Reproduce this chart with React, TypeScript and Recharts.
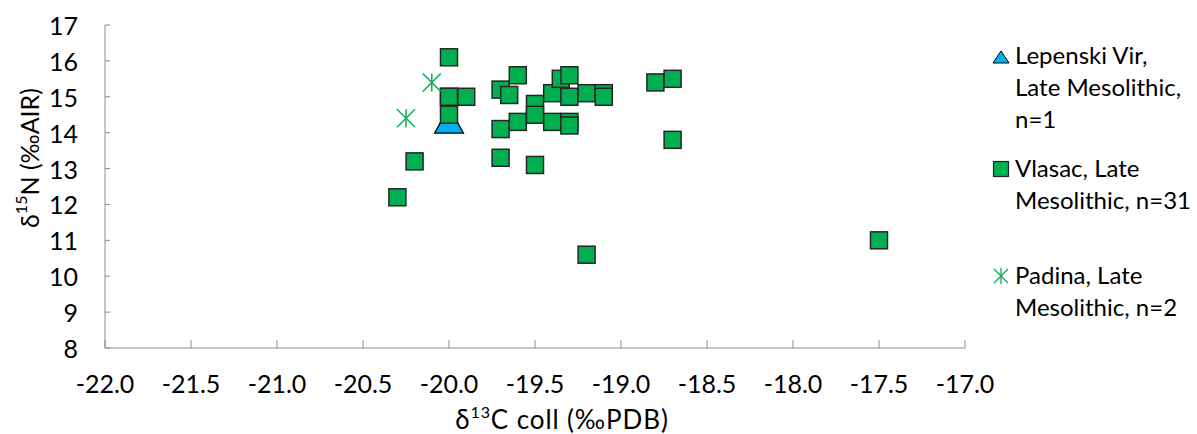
import React from 'react';
import { Label, Legend, Scatter, ScatterChart, XAxis, YAxis } from 'recharts';

// δ13C / δ15N per site
const lepenskiC = [-20.0];
const lepenskiN = [14.35];

const vlasacC = [
  -20.0, -20.0, -19.9, -20.0, -20.2, -20.3, -19.6, -19.7, -19.65, -19.5, -19.4,
  -19.35, -19.3, -19.3, -19.2, -19.1, -19.1, -19.7, -19.6, -19.5, -19.4, -19.3,
  -19.3, -19.7, -19.5, -18.8, -18.7, -18.7, -19.2, -17.5, -20.0,
];
const vlasacN = [
  16.1, 15.0, 15.0, 14.5, 13.2, 12.2, 15.6, 15.2, 15.05, 14.8, 15.1, 15.5, 15.6,
  15.0, 15.1, 15.1, 15.0, 14.1, 14.3, 14.5, 14.3, 14.3, 14.2, 13.3, 13.1, 15.4,
  15.5, 13.8, 10.6, 11.0, 15.0,
];

const padinaC = [-20.1, -20.25];
const padinaN = [15.4, 14.4];

const xTicks = [-22, -21.5, -21, -20.5, -20, -19.5, -19, -18.5, -18, -17.5, -17];
const yTicks = [8, 9, 10, 11, 12, 13, 14, 15, 16, 17];

const FONT = 'Lato, "Noto Sans", sans-serif';
const AXIS = '#8c8c8c';
const GREEN = '#00B050';
const BLUE = '#00B0F0';
const TICK_FS = 25;

const zip = (xs: number[], ys: number[]) => xs.map((c, i) => ({ c, n: ys[i] }));

const SquareMark = (p: any) => (
  <rect x={p.cx - 8.5} y={p.cy - 8.5} width={17} height={17} fill={GREEN} stroke="#262626" strokeWidth={1.5} />
);

const TriangleMark = (p: any) => (
  <polygon
    points={`${p.cx},${p.cy - 13} ${p.cx + 14.5},${p.cy + 13} ${p.cx - 14.5},${p.cy + 13}`}
    fill={BLUE}
    stroke="#000"
    strokeWidth={1.2}
  />
);

const StarMark = (p: any) => {
  const r = 9;
  const { cx, cy } = p;
  return (
    <g stroke={GREEN} strokeWidth={1.5}>
      <line x1={cx - r} y1={cy - r} x2={cx + r} y2={cy + r} />
      <line x1={cx - r} y1={cy + r} x2={cx + r} y2={cy - r} />
      <line x1={cx} y1={cy - r} x2={cx} y2={cy + r} />
    </g>
  );
};

const XTick = ({ x, y, payload }: any) => (
  <g>
    <line x1={x} x2={x} y1={y} y2={y - 8} stroke={AXIS} />
    <text x={x} y={y + 35} textAnchor="middle" dominantBaseline="central" fontSize={TICK_FS} fontFamily={FONT} fill="#000">
      {payload.value.toFixed(1)}
    </text>
  </g>
);

const YTick = ({ x, y, payload }: any) => (
  <g>
    <line x1={x} x2={x + 5} y1={y} y2={y} stroke={AXIS} />
    <text x={x - 27} y={y} textAnchor="end" dominantBaseline="central" fontSize={TICK_FS} fontFamily={FONT} fill="#000">
      {payload.value}
    </text>
  </g>
);

const XTitle = () => (
  <text
    x={562}
    y={419}
    textAnchor="middle"
    dominantBaseline="central"
    fontSize={26}
    letterSpacing={0.9}
    fontFamily={FONT}
    fill="#000"
  >
    δ<tspan dy={-8} fontSize={16}>13</tspan>
    <tspan dy={8}>C coll (‰PDB)</tspan>
  </text>
);

const YTitle = () => (
  <text
    x={29}
    y={158}
    transform="rotate(-90, 29, 158)"
    textAnchor="middle"
    dominantBaseline="central"
    fontSize={25}
    fontFamily={FONT}
    fill="#000"
  >
    δ<tspan dy={-9} fontSize={16}>15</tspan>
    <tspan dy={9}>N (‰AIR)</tspan>
  </text>
);

const legendEntries = [
  { mark: 'tri', y: 57, lines: ['Lepenski Vir,', 'Late Mesolithic,', 'n=1'], base: 64 },
  { mark: 'sq', y: 169, lines: ['Vlasac, Late', 'Mesolithic, n=31'], base: 177 },
  { mark: 'star', y: 276, lines: ['Padina, Late', 'Mesolithic, n=2'], base: 284 },
];

const LegendBox = () => (
  <svg width={237} height={330} style={{ display: 'block' }}>
    {legendEntries.map((e) => {
      const cx = 41;
      return (
        <g key={e.lines[0]}>
          {e.mark === 'tri' && (
            <polygon points={`${cx},${e.y - 6} ${cx + 8},${e.y + 6} ${cx - 8},${e.y + 6}`} fill={BLUE} stroke="#000" strokeWidth={1} />
          )}
          {e.mark === 'sq' && (
            <rect x={cx - 7.5} y={e.y - 7.5} width={15} height={15} fill={GREEN} stroke="#262626" strokeWidth={1.2} />
          )}
          {e.mark === 'star' && (
            <g stroke={GREEN} strokeWidth={1.3}>
              <line x1={cx - 7} y1={e.y - 7} x2={cx + 7} y2={e.y + 7} />
              <line x1={cx - 7} y1={e.y + 7} x2={cx + 7} y2={e.y - 7} />
              <line x1={cx} y1={e.y - 8} x2={cx} y2={e.y + 8} />
            </g>
          )}
          {e.lines.map((t, i) => (
            <text key={t} x={55} y={e.base + i * 32} fontSize={24} fontFamily={FONT} fill="#000">
              {t}
            </text>
          ))}
        </g>
      );
    })}
  </svg>
);

export default function App() {
  return (
    <div style={{ position: 'absolute', left: 0, top: 0, width: 1197, height: 434, background: '#fff' }}>
      <ScatterChart width={1197} height={434} margin={{ top: 25, right: 232, bottom: 0, left: 0 }}>
        <XAxis
          type="number"
          dataKey="c"
          domain={[-22, -17]}
          ticks={xTicks}
          interval={0}
          height={86}
          tickSize={0}
          tickMargin={0}
          tickLine={false}
          axisLine={{ stroke: AXIS }}
          tick={<XTick />}
        >
          <Label content={<XTitle />} />
        </XAxis>
        <YAxis
          type="number"
          dataKey="n"
          domain={[8, 17]}
          ticks={yTicks}
          interval={0}
          width={105}
          tickSize={0}
          tickMargin={0}
          tickLine={false}
          axisLine={{ stroke: AXIS }}
          tick={<YTick />}
        >
          <Label content={<YTitle />} />
        </YAxis>
        <Legend
          layout="horizontal"
          verticalAlign="middle"
          align="center"
          content={<LegendBox />}
          wrapperStyle={{ position: 'absolute', left: 960, top: 0, width: 237, height: 330 }}
        />
        <Scatter name="Lepenski Vir" data={zip(lepenskiC, lepenskiN)} shape={TriangleMark} isAnimationActive={false} />
        <Scatter name="Vlasac" data={zip(vlasacC, vlasacN)} shape={SquareMark} isAnimationActive={false} />
        <Scatter name="Padina" data={zip(padinaC, padinaN)} shape={StarMark} isAnimationActive={false} />
      </ScatterChart>
    </div>
  );
}
